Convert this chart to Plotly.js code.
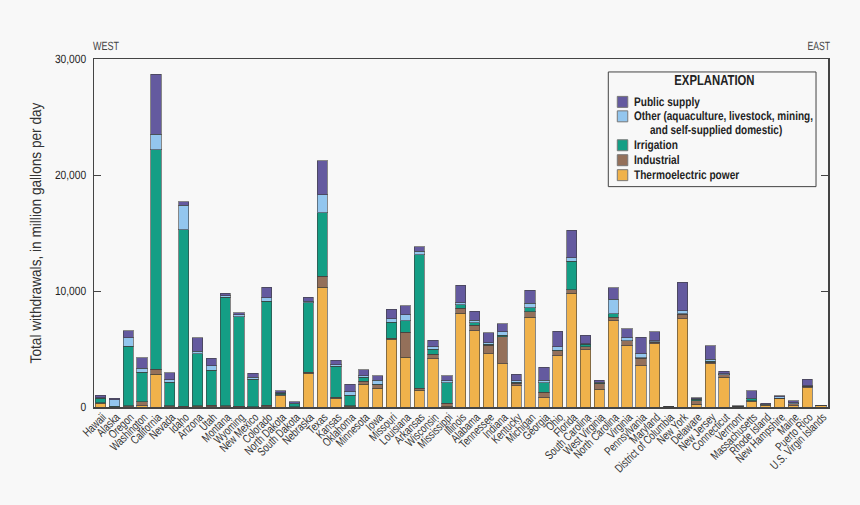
<!DOCTYPE html>
<html><head><meta charset="utf-8">
<script src="https://cdn.plot.ly/plotly-3.0.1.min.js"></script>
<style>html,body{margin:0;padding:0;background:#f8f8f8} svg text{text-rendering:geometricPrecision} .xaxislayer-above{opacity:.99}</style></head>
<body><div id="chart" style="width:860px;height:505px"></div>
<script>
const states = ["Hawaii","Alaska","Oregon","Washington","California","Nevada","Idaho","Arizona","Utah","Montana","Wyoming","New Mexico","Colorado","North Dakota","South Dakota","Nebraska","Texas","Kansas","Oklahoma","Minnesota","Iowa","Missouri","Louisiana","Arkansas","Wisconsin","Mississippi","Illinois","Alabama","Tennessee","Indiana","Kentucky","Michigan","Georgia","Ohio","Florida","South Carolina","West Virginia","North Carolina","Virginia","Pennsylvania","Maryland","District of Columbia","New York","Delaware","New Jersey","Connecticut","Vermont","Massachusetts","Rhode Island","New Hampshire","Maine","Puerto Rico","U.S. Virgin Islands"];
const thermoelectric = [340,10,5,100,2810,20,20,50,20,20,20,20,20,950,5,2920,10340,770,85,1950,1630,5820,4300,1460,4180,50,8080,6590,4580,3750,1830,7740,800,4440,9800,4930,1550,7450,5270,3550,5470,5,7620,230,3750,2550,5,490,170,750,110,1660,90];
const industrial = [30,30,90,360,460,95,60,60,150,80,60,20,120,110,20,60,920,90,30,250,290,110,2150,170,380,290,430,460,750,2320,200,480,490,400,290,280,450,280,430,660,120,0,370,310,90,230,40,30,30,25,150,120,50];
const irrigation = [370,30,5145,2520,18910,2005,15220,4470,3010,9380,7710,2360,8970,140,240,6020,5500,2660,915,350,60,1380,1000,11490,430,1750,290,230,60,120,120,350,800,60,2460,200,30,290,30,30,30,0,30,150,110,10,0,200,0,0,10,10,0];
const other = [40,560,750,340,1340,230,2090,210,370,90,150,180,320,30,40,110,1540,120,290,150,340,280,520,290,200,170,170,200,170,310,110,370,230,290,320,60,120,1260,260,370,110,0,290,10,150,80,0,50,30,115,80,50,0];
const publicSupply = [250,115,570,920,5160,600,310,1200,660,230,200,320,890,150,130,370,2930,370,660,510,370,830,770,400,570,430,1520,770,860,660,580,1120,1090,1340,2370,720,170,980,740,1410,770,15,2460,110,1200,230,65,630,110,60,180,550,10];
const legendLabels = ["Public supply","Other (aquaculture, livestock, mining,","Irrigation","Industrial","Thermoelectric power"];
const legendContinuation = "and self-supplied domestic)";
const colors = {thermo:"#f0b24b",ind:"#94705a",irr:"#149e85",oth:"#93c6ee",pub:"#645a9f"};
const yTicks = [0,10000,20000,30000];
const FONT = '"Liberation Sans",sans-serif';

function mk(name,y,color){return {type:"bar",name:name,x:states,y:y,width:0.74,
  marker:{color:color,line:{color:"rgba(60,60,60,0.6)",width:1}},showlegend:false};}
const traces = [mk(legendLabels[4],thermoelectric,colors.thermo),mk(legendLabels[3],industrial,colors.ind),
  mk(legendLabels[2],irrigation,colors.irr),mk(legendLabels[1],other,colors.oth),mk(legendLabels[0],publicSupply,colors.pub)];

const W=860,H=505,L=93.5,R=828.5,T=58.5,B=407.5;
const px=x=>(x-L)/(R-L), py=y=>(B-y)/(B-T);
function ann(text,x,y,size,o){return Object.assign({xref:"paper",yref:"paper",x:px(x),y:py(y),text:text,showarrow:false,
  xanchor:"left",yanchor:"middle",font:{family:FONT,size:size,color:"#222"}},o||{});}
const shapes=[{type:"rect",xref:"paper",yref:"paper",x0:px(608.5),x1:px(816.5),y0:py(71.5),y1:py(186.5),
  line:{color:"#444",width:1},fillcolor:"#f8f8f8",layer:"above"}];
const swatchY=[101.5,116,145,160,175], swatchC=[colors.pub,colors.oth,colors.irr,colors.ind,colors.thermo];
swatchY.forEach((y,i)=>shapes.push({type:"rect",xref:"paper",yref:"paper",x0:px(617.5),x1:px(628),y0:py(y-5.5),y1:py(y+5.5),
  fillcolor:swatchC[i],line:{color:"#777",width:1},layer:"above"}));
const annotations=[
  ann("WEST",90,45,12,{font:{family:FONT,size:12,color:"#444"}}),
  ann("EAST",833,45,12,{xanchor:"right",font:{family:FONT,size:12,color:"#444"}}),
  ann("<b>EXPLANATION</b>",715,81,14.5,{xanchor:"center"}),
];
swatchY.forEach((y,i)=>annotations.push(ann("<b>"+legendLabels[i]+"</b>",632,y,12.5)));
annotations.push(ann("<b>"+legendContinuation+"</b>",648,130,12.5));

// Horizontal condensing of the text, since no narrow face is installed.
function condense(el,f,mode){
  const w=el.getComputedTextLength(); const b=el.getBBox();
  if(mode==="start"){el.setAttribute("text-anchor","start");el.setAttribute("x",b.x);}
  if(mode==="end"){el.setAttribute("text-anchor","end");el.setAttribute("x",b.x+b.width);}
  el.setAttribute("lengthAdjust","spacingAndGlyphs");
  el.setAttribute("textLength",w*f);
}

Plotly.newPlot("chart",traces,{
  width:W,height:H,barmode:"stack",bargap:0.26,
  margin:{l:L,r:W-R,t:T,b:H-B,pad:0},
  paper_bgcolor:"#f8f8f8",plot_bgcolor:"#f8f8f8",
  font:{family:FONT,color:"#333"},
  xaxis:{type:"category",range:[-0.47,52.5],tickangle:-45,ticks:"",showgrid:false,showline:true,linecolor:"#444",linewidth:1.5,
    mirror:true,ticklabelstandoff:-3,ticklabelshift:2,tickfont:{family:FONT,size:12,color:"#333"},automargin:false,tickmode:"array",tickvals:states,ticktext:states},
  yaxis:{range:[0,30000],tickvals:yTicks,tickformat:",d",ticks:"inside",ticklen:7,tickcolor:"#444",tickwidth:1,showgrid:false,zeroline:false,
    showline:true,linecolor:"#444",linewidth:1.5,mirror:"ticks",ticklabelstandoff:4,tickfont:{family:FONT,size:12,color:"#222"},
    title:{text:"Total withdrawals, in million gallons per day",font:{family:FONT,size:15.5,color:"#333"},standoff:4},automargin:true},
  shapes:shapes,annotations:annotations
},{displayModeBar:false,staticPlot:true}).then(gd=>{
  gd.querySelectorAll(".xtick text").forEach(t=>condense(t,0.75));
  gd.querySelectorAll(".ytick text").forEach(t=>condense(t,0.85));
  gd.querySelectorAll(".g-ytitle text").forEach(t=>condense(t,0.88));
  gd.querySelectorAll(".annotation-text").forEach(t=>{
    const s=t.textContent;
    if(s==="WEST")condense(t,0.75,"start");
    else if(s==="EAST")condense(t,0.72,"end");
    else if(s==="EXPLANATION")condense(t,0.78);
    else condense(t,s.startsWith("Other")||s.startsWith("and")?0.80:0.81,"start");
  });
});
</script></body></html>
